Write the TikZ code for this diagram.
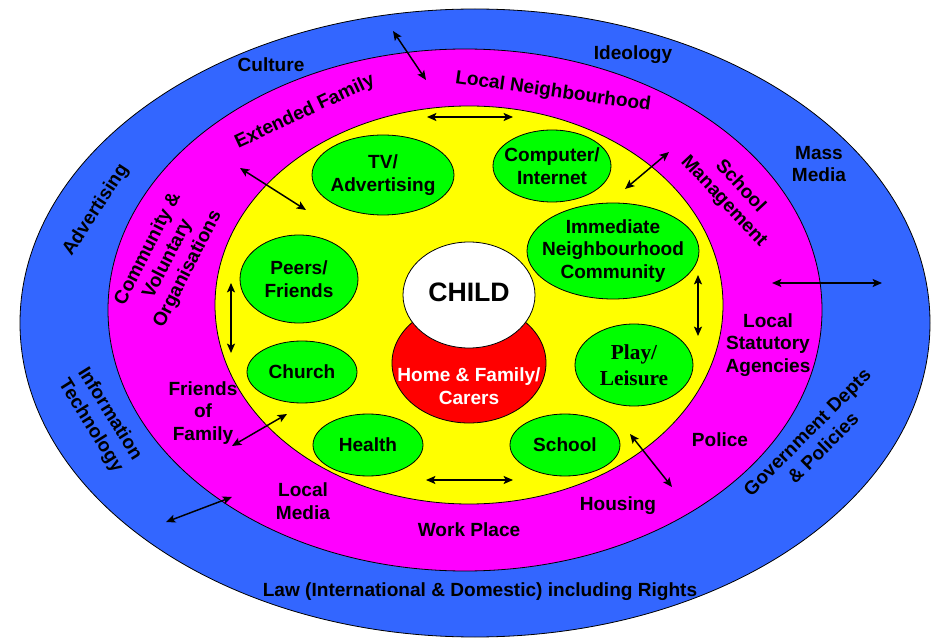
\documentclass[tikz,border=0pt]{standalone}
\usepackage{fontspec}
\setmainfont{Liberation Sans}
\newfontfamily\playfont{Liberation Serif}
\usetikzlibrary{arrows.meta,shapes.geometric}
\definecolor{ringblue}{RGB}{51,102,255}
\definecolor{ringpink}{RGB}{255,0,255}
\definecolor{ringyellow}{RGB}{255,255,0}
\definecolor{blobgreen}{RGB}{0,255,0}
\tikzset{
	lbl/.style={font=\bfseries\fontsize{14.3}{16.8}\selectfont,align=center,inner sep=0pt},
	blob/.style={ellipse,draw,fill=blobgreen,inner sep=0pt,line width=.6pt},
	link/.style={{Stealth[length=7pt,width=6pt,inset=1.5pt]}-{Stealth[length=7pt,width=6pt,inset=1.5pt]},line width=1.1pt}
}
\begin{document}
\begin{tikzpicture}[x=.75pt,y=-.75pt]
\useasboundingbox (0,0) rectangle (933,638);
\begin{scope}[line width=.6pt]
\filldraw[fill=ringblue] (475,323) ellipse [x radius=455,y radius=314];
\filldraw[fill=ringpink] (465,310) ellipse [x radius=357,y radius=261];
\filldraw[fill=ringyellow] (469,305) ellipse [x radius=254,y radius=199];
\end{scope}

% centre
\node[ellipse,draw,fill=red,line width=.6pt,minimum width=115.5pt,minimum height=90pt] (home) at (469,363) {};
\node[ellipse,draw,fill=white,line width=.6pt,minimum width=99pt,minimum height=79.5pt] (child) at (469,295) {};
\node[lbl,font=\bfseries\fontsize{20}{24}\selectfont] (childtext) at (469,292) {CHILD};
\node[lbl,white] (hometext) at (469,386) {Home \& Family/\\Carers};

% green ones
\foreach \nm/\cx/\cy/\rx/\ry/\txt in {
	tv/383/175/71/40/{TV/\\Advertising},
	comp/552/166/59/36/{Computer/\\Internet},
	immed/613/251/86/48/{Immediate\\Neighbourhood\\Community},
	peers/299/279/59/44/{Peers/\\Friends},
	church/302/372/55/31/{Church},
	health/368/445/55/31/{Health},
	school/565/445/55/31/{School}}
{
	\node[blob,minimum width=\rx*1.5pt,minimum height=\ry*1.5pt] (\nm) at (\cx,\cy) {};
	\node[lbl] (\nm text) at (\nm) {\txt};
}
\node[blob,minimum width=88.5pt,minimum height=61.5pt] (play) at (634,365) {};
\node[lbl,font=\playfont\bfseries\fontsize{16}{19.5}\selectfont] (playtext) at (play) {Play/\\Leisure};

% outer ring
\node[lbl] (culture) at (271,65) {Culture};
\node[lbl] (ideology) at (633,55) {Ideology};
\node[lbl] (massmedia) at (819,164) {Mass\\Media};
\node[lbl,rotate=57] (advert) at (96,210) {Advertising};
\node[lbl,rotate=-58] (infotech) at (100,420) {Information\\Technology};
\node[lbl,rotate=45] (govt) at (815,440) {Government Depts\\\& Policies};
\node[lbl] (law) at (480,592) {Law (International \& Domestic) including Rights};

% middle ring
\node[lbl,rotate=25] (extfam) at (305,112) {Extended Family};
\node[lbl,rotate=-8] (localnb) at (553,92) {Local Neighbourhood};
\node[lbl,rotate=-47] (schoolman) at (732,194) {School\\Management};
\node[lbl,rotate=63] (community) at (168,259) {Community \&\\Voluntary\\Organisations};
\node[lbl] (friends) at (203,413) {Friends\\of\\Family};
\node[lbl] (localmedia) at (303,501) {Local\\Media};
\node[lbl] (work) at (469,530) {Work Place};
\node[lbl] (housing) at (618,506) {Housing};
\node[lbl] (police) at (720,440) {Police};
\node[lbl] (statutory) at (768,345) {Local\\Statutory\\Agencies};

% arrows
\coordinate (p1) at (393,31);   \coordinate (q1) at (426,80);
\coordinate (p2) at (427,117);  \coordinate (q2) at (513,117);
\coordinate (p3) at (240,168);  \coordinate (q3) at (306,210);
\coordinate (p4) at (625,189);  \coordinate (q4) at (669,152);
\coordinate (p5) at (772,283);  \coordinate (q5) at (882,283);
\coordinate (p6) at (698,275);  \coordinate (q6) at (698,336);
\coordinate (p7) at (231,283);  \coordinate (q7) at (231,353);
\coordinate (p8) at (232,446);  \coordinate (q8) at (287,414);
\coordinate (p9) at (166,522);  \coordinate (q9) at (232,497);
\coordinate (p10) at (426,480); \coordinate (q10) at (513,480);
\coordinate (p11) at (630,434); \coordinate (q11) at (672,487);
\foreach \n in {1,2,...,11}
{
	\draw[link] (p\n) -- (q\n);
}
\end{tikzpicture}
\end{document}
